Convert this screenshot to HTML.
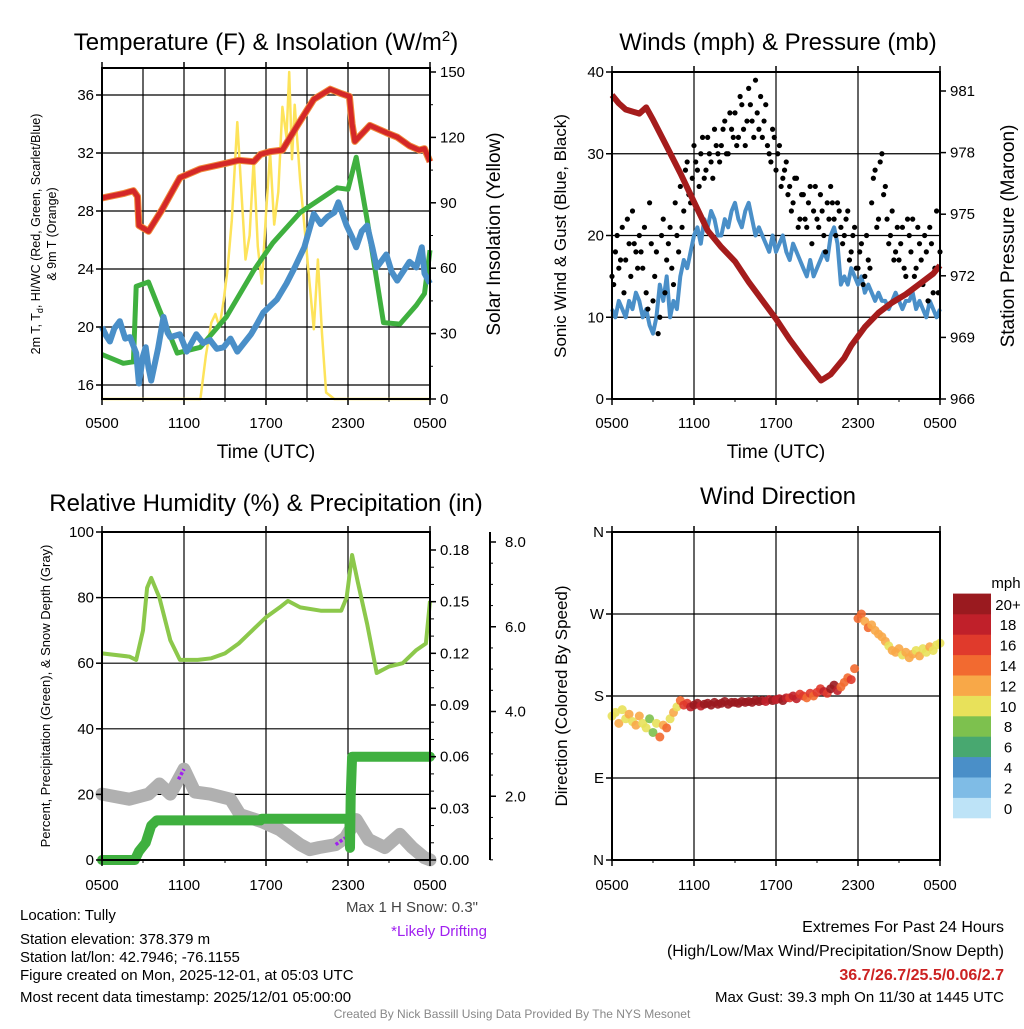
<!DOCTYPE html>
<html><head><meta charset="utf-8"><style>
body{margin:0;background:#fff;width:1024px;height:1024px;overflow:hidden}
svg{font-family:"Liberation Sans",sans-serif}
</style></head><body>
<svg id="s" width="1024" height="1024" viewBox="0 0 1024 1024">
<rect width="1024" height="1024" fill="#fff"/>
<g id="g1"></g>
<g id="g2"></g>
<g id="g3"></g>
<g id="g4"></g>
<text x="266" y="50" font-size="24" text-anchor="middle">Temperature (F) &amp; Insolation (W/m<tspan dy="-9" font-size="15">2</tspan><tspan dy="9">)</tspan></text>
<text x="778" y="50" font-size="24" text-anchor="middle">Winds (mph) &amp; Pressure (mb)</text>
<text x="266" y="511" font-size="24" text-anchor="middle">Relative Humidity (%) &amp; Precipitation (in)</text>
<text x="778" y="504" font-size="24" text-anchor="middle">Wind Direction</text>
<text transform="translate(40,234) rotate(-90)" font-size="12.5" text-anchor="middle">2m T, T<tspan font-size="9" dy="3">d</tspan><tspan dy="-3">, HI/WC (Red, Green, Scarlet/Blue)</tspan></text>
<text transform="translate(56,234) rotate(-90)" font-size="12.5" text-anchor="middle">&amp; 9m T (Orange)</text>
<text transform="translate(500,234) rotate(-90)" font-size="19" text-anchor="middle">Solar Insolation (Yellow)</text>
<text transform="translate(566,236) rotate(-90)" font-size="17" text-anchor="middle">Sonic Wind &amp; Gust (Blue, Black)</text>
<text transform="translate(1014,236) rotate(-90)" font-size="19" text-anchor="middle">Station Pressure (Maroon)</text>
<text transform="translate(50,696) rotate(-90)" font-size="13" text-anchor="middle">Percent, Precipitation (Green), &amp; Snow Depth (Gray)</text>
<text transform="translate(567,696) rotate(-90)" font-size="17" text-anchor="middle">Direction (Colored By Speed)</text>
<text x="266" y="458" font-size="19" text-anchor="middle">Time (UTC)</text>
<text x="776" y="458" font-size="19" text-anchor="middle">Time (UTC)</text>
<text x="478" y="912" font-size="15" text-anchor="end" fill="#444">Max 1 H Snow: 0.3"</text>
<text x="487" y="936" font-size="15" text-anchor="end" fill="#a020f0">*Likely Drifting</text>
<g font-size="15">
<text x="20" y="920">Location: Tully</text>
<text x="20" y="944">Station elevation: 378.379 m</text>
<text x="20" y="962">Station lat/lon: 42.7946; -76.1155</text>
<text x="20" y="980">Figure created on Mon, 2025-12-01, at 05:03 UTC</text>
<text x="20" y="1002">Most recent data timestamp: 2025/12/01 05:00:00</text>
</g>
<g font-size="16" text-anchor="end">
<text x="1004" y="932">Extremes For Past 24 Hours</text>
<text x="1004" y="956">(High/Low/Max Wind/Precipitation/Snow Depth)</text>
<text x="1004" y="980" fill="#cc2222" font-weight="bold">36.7/26.7/25.5/0.06/2.7</text>
<text x="1004" y="1002" font-size="15">Max Gust: 39.3 mph On 11/30 at 1445 UTC</text>
</g>
<text x="512" y="1018" font-size="12" text-anchor="middle" fill="#888">Created By Nick Bassill Using Data Provided By The NYS Mesonet</text>
</svg>
<script>
// ---- data (hours since 0500 UTC) ----
const xTickLabels=["0500","1100","1700","2300","0500"];
const tempT=[0,1.56,2.3,2.6,2.7,3.4,4.4,5.7,7.2,9.1,10,11.1,11.6,12.3,13.2,14.3,15.5,16.7,17.5,18.1,18.3,18.5,19.6,20.8,21.6,22.5,23.2,23.6,24];
const tempV=[28.9,29.2,29.4,29.0,27.0,26.6,28.1,30.3,30.9,31.3,31.5,31.4,31.9,32.1,32.2,33.9,35.7,36.4,36.1,35.9,34.0,32.8,33.9,33.4,33.1,32.5,32.2,32.3,31.4];
const dewT=[0,1.56,2.3,2.5,3.4,4.2,5.5,7.2,9.1,11.1,12.5,14.5,17.2,18.0,18.6,19.4,20.6,21.8,23.0,23.6,24];
const dewV=[18.1,17.5,17.6,22.8,23.1,21.2,18.2,18.6,20.7,23.9,25.8,27.9,29.6,29.5,31.7,27.4,20.3,20.2,21.5,22.3,25.3];
const wcT=[0,0.3,0.58,0.9,1.3,1.7,2.05,2.5,2.7,3.0,3.2,3.4,3.6,4.1,4.5,4.8,5.0,5.7,6.2,6.9,7.4,7.9,8.4,8.9,9.4,9.9,10.4,10.9,11.4,11.8,12.8,13.5,14.1,14.8,15.5,16.0,16.5,17.0,17.3,17.9,18.3,18.6,19.0,19.4,19.8,20.1,20.8,21.2,21.6,22.5,23.0,23.4,23.6,24];
const wcV=[20.0,19.4,19.0,19.9,20.4,19.2,19.3,18.2,16.1,18.0,18.6,17.2,16.3,18.5,20.7,19.6,19.3,19.5,18.3,19.5,18.9,19.1,18.5,18.6,19.2,18.3,18.9,19.5,20.3,21.0,21.9,23.0,24.1,25.5,27.8,27.1,27.6,27.9,28.6,27.0,26.2,25.5,26.6,27.0,25.4,24.1,25.0,23.8,23.2,24.5,24.1,25.5,23.7,23.0];
const solT=[0,7.2,7.6,8.0,8.3,8.6,8.9,9.2,9.5,9.9,10.2,10.5,10.8,11.1,11.4,11.7,12.0,12.3,12.6,12.9,13.2,13.5,13.7,13.9,14.1,14.5,14.8,15.1,15.5,15.8,16.1,16.4,17,24];
const solV=[0,0,20,35,39,33,45,60,82,127,95,64,75,110,70,53,85,113,80,95,134,120,150,110,135,100,80,59,32,64,30,3,0,0];
const windV=[11,10,12,11,10,12,11,13,12,10,11,9,8,10,14,12,15,10,12,11,15,17,16,18,20,21,19,22,21,23,22,20,20,22,21,23,24,22,21,23,24,22,20,21,20,19,18,20,18,19,20,18,17,19,18,17,16,15,17,15,16,17,18,17,20,21,19,14,15,14,16,15,14,15,13,14,13,12,13,12,12,11,12,13,12,11,12,12,13,11,12,11,10,12,11,10,11];
const gustV=[15,18,16,21,17,19,23,18,20,16,13,24,12,18,10,22,17,21,14,20,26,23,29,24,31,28,30,27,32,29,33,30,31,34,30,33,35,32,36,31,38,34,39,33,32,36,30,33,28,31,27,29,26,24,27,22,25,21,26,23,22,25,20,24,26,22,24,21,20,23,18,21,16,19,15,17,24,28,22,30,26,19,23,18,17,21,15,20,22,16,19,14,18,21,13,23,18];
const gustBV=[14,20,17,13,22,15,19,16,18,21,11,19,15,8,20,13,19,16,24,18,21,28,25,27,29,26,32,28,30,27,31,29,33,30,35,32,31,37,33,34,36,32,35,37,34,31,29,32,30,26,28,25,23,27,21,25,22,24,19,26,21,23,18,22,24,20,23,19,22,17,20,16,18,14,20,16,27,21,29,25,22,20,17,21,19,16,22,18,15,21,17,20,12,19,16,13];
const presT=[0,0.5,1,2,2.5,3,4,5,6,7,8,9,10,11,12,13,14,15.3,16,16.5,17,17.5,18.5,19.5,20.5,21.5,22.5,23.5,24];
const presV=[980.8,980.4,980.1,979.9,980.2,979.6,978.3,977.0,975.6,974.2,973.4,972.7,971.7,970.8,969.9,968.9,968.0,966.9,967.2,967.6,968.0,968.6,969.5,970.2,970.7,971.1,971.6,972.1,972.5];
const rhT=[0,2,2.5,3,3.3,3.6,4.2,5,5.7,7,8,9,10,11,12,13,13.6,14.5,16,17.5,17.9,18.3,18.7,19.4,20.1,21,22,23,23.7,24];
const rhV=[63,62,61,70,83,86,80,67,61,61,61.5,63,66,70,74,77,79,77,76,76,80,93,85,72,57,59,60,64,66,79];
const prT=[0,2.4,2.7,3.2,3.6,4,11.6,11.7,18.1,18.15,18.2,18.3,24];
const prV=[0,0,0.005,0.01,0.02,0.023,0.023,0.024,0.024,0.007,0.037,0.06,0.06];
const snT=[0,2,3.4,4.2,5,5.6,6,6.8,7.9,9.4,10.1,11.7,13,14.5,15.2,15.9,17.1,17.8,18.6,19.5,20.7,21.8,22.7,23.6,24];
const snV=[2.05,1.93,2.05,2.29,2.05,2.4,2.64,2.1,2.05,1.93,1.57,1.4,1.21,0.86,0.74,0.79,0.86,1.02,1.45,0.98,0.79,1.1,0.79,0.55,0.5];
const dirV=[158,162,150,165,155,160,152,148,158,150,145,155,140,150,135,148,145,155,162,168,175,170,172,168,170,172,169,171,172,170,173,171,172,174,171,173,173,172,174,173,174,173,175,174,175,174,176,175,176,177,175,178,178,180,177,182,180,178,183,180,184,188,185,183,188,192,186,190,195,200,198,210,265,270,262,255,258,252,248,245,240,235,230,228,232,225,228,222,226,230,224,232,228,234,230,236,238];
const speedBins=["0","2","4","6","8","10","12","14","16","18","20+"];
const binColors=["#bde3f7","#7fbce6","#4a8fc8","#48a870","#7dc14e","#e8e15a","#f8a848","#f26a30","#e03a2c","#c0202a","#9a1a1f"];

const NS="http://www.w3.org/2000/svg";
function mk(p,tag,at){const e=document.createElementNS(NS,tag);for(const k in at)e.setAttribute(k,at[k]);p.appendChild(e);return e;}
function txt(p,x,y,s,anchor,size){const e=mk(p,"text",{x:x,y:y,"font-size":size||15,"text-anchor":anchor||"middle"});e.textContent=s;return e;}
function lin(a,b,c,d){return v=>c+(v-a)*(d-c)/(b-a);}
function pathOf(ts,vs,fx,fy){return ts.map((t,i)=>(i?"L":"M")+fx(t).toFixed(1)+","+fy(vs[i]).toFixed(1)).join("");}
const tAt=i=>i*0.25;

function frame(g,L,T,R,B,vg,hg){
  mk(g,"rect",{x:L,y:T,width:R-L,height:B-T,fill:"#fff"});
  vg.forEach(x=>{const l=mk(g,"line",{x1:x,x2:x,y1:T,y2:B,stroke:"#000","stroke-width":1.2});
    
    });
  hg.forEach(y=>{const l=mk(g,"line",{x1:L,x2:R,y1:y,y2:y,stroke:"#000","stroke-width":1.2});
    
    });
}
function border(g,L,T,R,B){const r=mk(g,"rect",{x:L,y:T,width:R-L,height:B-T,fill:"none",stroke:"#000","stroke-width":2});
  
  }
function xticks(g,fx,T,B,y){xTickLabels.forEach((s,i)=>{const x=fx(i*6);
  const t=txt(g,x,y,s,"middle",15);
  
  
  mk(g,"line",{x1:x,x2:x,y1:B,y2:B+6,stroke:"#000","stroke-width":1.5});
  mk(g,"line",{x1:x,x2:x,y1:T,y2:T-6,stroke:"#000","stroke-width":1.5});});
  for(let h=0;h<=24;h+=3){const x=fx(h);mk(g,"line",{x1:x,x2:x,y1:B,y2:B+3,stroke:"#000"});}}
function yticks(g,vals,fy,xAxis,side,labs,dec){vals.forEach((v,i)=>{const y=fy(v);
  mk(g,"line",{x1:xAxis,x2:xAxis+(side<0?-6:6),y1:y,y2:y,stroke:"#000","stroke-width":1.5});
  const t=txt(g,xAxis+(side<0?-8:10),y+5,labs?labs[i]:v.toFixed(dec||0),side<0?"end":"start",15);
  
  });}

// ---- Panel 1 ----
(function(){const g=document.getElementById("g1");const L=102,R=430,T=68,B=399;
const fx=lin(0,24,L,R),fy=lin(16,36,385,95),fs=lin(0,150,399,72);
const vg=[];for(let h=3;h<24;h+=3)vg.push(fx(h));
frame(g,L,T,R,B,vg,[16,20,24,28,32,36].map(fy));
const s=mk(g,"path",{d:pathOf(solT,solV,fx,fs),fill:"none",stroke:"#fde35a","stroke-width":2.5,"stroke-linejoin":"round"});


const d=mk(g,"path",{d:pathOf(dewT,dewV,fx,fy),fill:"none",stroke:"#3fb03f","stroke-width":5,"stroke-linejoin":"round"});


const w=mk(g,"path",{d:pathOf(wcT,wcV,fx,fy),fill:"none",stroke:"#4a8fc8","stroke-width":6,"stroke-linejoin":"round"});


mk(g,"path",{d:pathOf(tempT,tempV,fx,fy),fill:"none",stroke:"#f08a3a","stroke-width":7,"stroke-linejoin":"round"});
const t=mk(g,"path",{d:pathOf(tempT,tempV,fx,fy),fill:"none",stroke:"#d42828","stroke-width":5,"stroke-linejoin":"round"});


border(g,L,T,R,B);
yticks(g,[16,20,24,28,32,36],fy,L,-1);
yticks(g,[0,30,60,90,120,150],fs,R,1);
for(let v=0;v<150;v+=15)mk(g,"line",{x1:R,x2:R+3,y1:fs(v),y2:fs(v),stroke:"#000"});
xticks(g,fx,T,B,428);})();

// ---- Panel 2 ----
(function(){const g=document.getElementById("g2");const L=612,R=940,T=72,B=399;
const fx=lin(0,24,L,R),fy=lin(0,40,399,72),fp=lin(966,981,399,91);
frame(g,L,T,R,B,[6,12,18].map(fx),[10,20,30].map(fy));
const ts=windV.map((_,i)=>tAt(i));
const w=mk(g,"path",{d:pathOf(ts,windV,fx,fy),fill:"none",stroke:"#4a8fc8","stroke-width":4,"stroke-linejoin":"round"});


gustV.forEach((v,i)=>{const c=mk(g,"circle",{cx:fx(tAt(i)),cy:fy(v),r:2.6,fill:"#000"});
  
  });
gustBV.forEach((v,i)=>{const c=mk(g,"circle",{cx:fx(tAt(i)+0.125),cy:fy(v),r:2.6,fill:"#000"});
  
  });
const p=mk(g,"path",{d:pathOf(presT,presV,fx,fp),fill:"none",stroke:"#a51c1c","stroke-width":6,"stroke-linejoin":"round"});


border(g,L,T,R,B);
yticks(g,[0,10,20,30,40],fy,L,-1);
yticks(g,[966,969,972,975,978,981],fp,R,1);
xticks(g,fx,T,B,428);})();

// ---- Panel 3 ----
(function(){const g=document.getElementById("g3");const L=102,R=430,T=532,B=860;
const fx=lin(0,24,L,R),fy=lin(0,100,860,532),fpr=lin(0,0.18,860,550),fsn=lin(0,8,881,542);
frame(g,L,T,R,B,[6,12,18].map(fx),[20,40,60,80].map(fy));
const sn=mk(g,"path",{d:pathOf(snT,snV,fx,fsn),fill:"none",stroke:"#b0b0b0","stroke-width":13,"stroke-linejoin":"round","stroke-linecap":"round"});


[[5.6,6.0],[17.1,17.8]].forEach(r=>{const i0=snT.findIndex(t=>t>=r[0]),i1=snT.findIndex(t=>t>=r[1]);
  const pp=mk(g,"path",{d:pathOf(snT.slice(i0,i1+1),snV.slice(i0,i1+1),fx,fsn),fill:"none",stroke:"#a020f0","stroke-width":3.5,"stroke-dasharray":"3 2"});
  
  });
const pr=mk(g,"path",{d:pathOf(prT,prV,fx,fpr),fill:"none",stroke:"#3fb03f","stroke-width":10,"stroke-linejoin":"round","stroke-linecap":"round"});


const rh=mk(g,"path",{d:pathOf(rhT,rhV,fx,fy),fill:"none",stroke:"#8cc84b","stroke-width":4,"stroke-linejoin":"round"});


border(g,L,T,R,B);
yticks(g,[0,20,40,60,80,100],fy,L,-1);
yticks(g,[0,0.03,0.06,0.09,0.12,0.15,0.18],fpr,R,1,null,2);
for(let v=0.01;v<0.19;v+=0.01)mk(g,"line",{x1:R,x2:R+4,y1:fpr(v),y2:fpr(v),stroke:"#000"});
mk(g,"line",{x1:490,x2:490,y1:532,y2:860,stroke:"#000","stroke-width":2});
[2,4,6,8].forEach(v=>{mk(g,"line",{x1:490,x2:496,y1:fsn(v),y2:fsn(v),stroke:"#000","stroke-width":1.5});
  const t=txt(g,505,fsn(v)+5,v.toFixed(1),"start",15);
  
  });
for(let v=0.5;v<8.2;v+=0.5)mk(g,"line",{x1:490,x2:493,y1:fsn(v),y2:fsn(v),stroke:"#000"});
xticks(g,fx,T,B,890);})();

// ---- Panel 4 ----
(function(){const g=document.getElementById("g4");const L=612,R=940,T=532,B=860;
const fx=lin(0,24,L,R),fy=lin(0,360,860,532);
frame(g,L,T,R,B,[6,12,18].map(fx),[90,180,270].map(fy));
dirV.forEach((v,i)=>{const b=Math.min(10,Math.floor(windV[i]/2));
  const c=mk(g,"circle",{cx:fx(tAt(i)),cy:fy(v),r:4.5,fill:binColors[b],"fill-opacity":0.9});
  
  });
border(g,L,T,R,B);
yticks(g,[0,90,180,270,360],fy,L,-1,["N","E","S","W","N"]);
xticks(g,fx,T,B,890);
const cb=mk(g,"g",{});


const h=20.4;
binColors.forEach((c,i)=>{const y=818-(i+1)*h;
  const r=mk(cb,"rect",{x:953,y:y,width:38,height:h+0.3,fill:c});
  
  
  const t=txt(cb,1008,y+h/2+6,speedBins[i],"middle",15);
  
  });
const u=txt(cb,1006,588,"mph","middle",15);

})();
</script>
</body></html>
